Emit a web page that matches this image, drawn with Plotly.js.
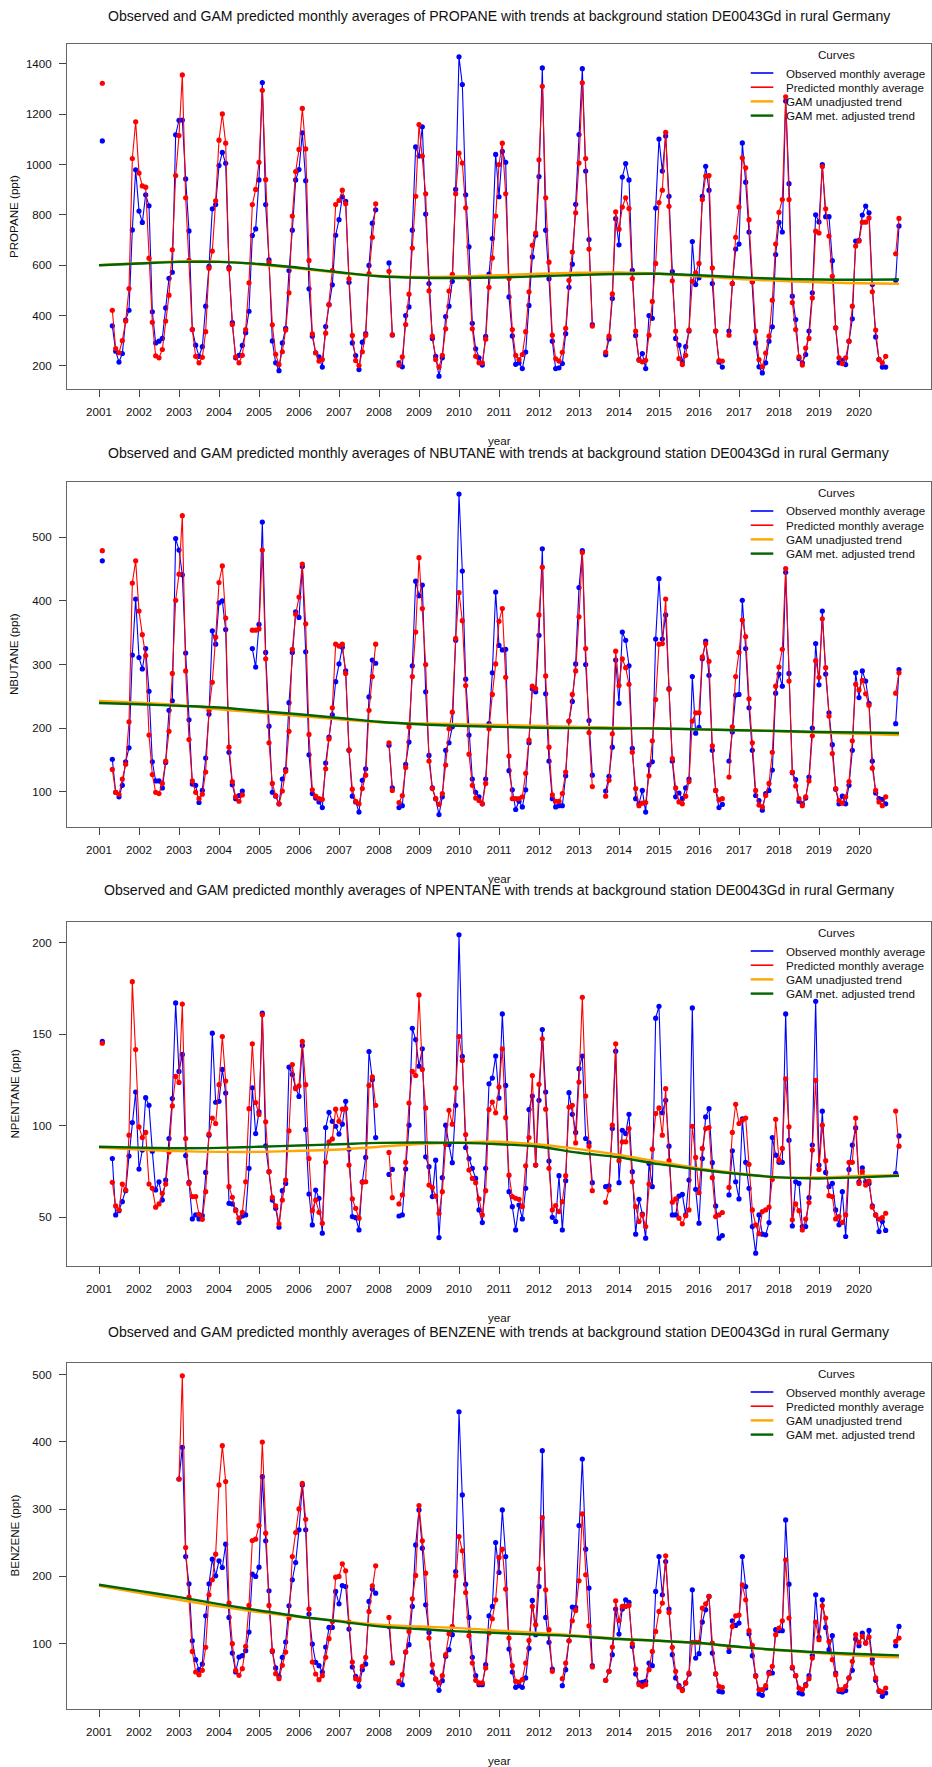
<!DOCTYPE html>
<html><head><meta charset="utf-8">
<script src="https://cdn.plot.ly/plotly-3.0.1.min.js"></script>
<style>html,body{margin:0;padding:0;background:#fff;}#chart{width:932px;height:1767px;}</style>
</head><body><div id="chart"></div>
<script>
// ---------- time axis (categories) ----------
const years = [2001,2002,2003,2004,2005,2006,2007,2008,2009,2010,2011,2012,2013,2014,2015,2016,2017,2018,2019,2020];
const trendYears = [2001,2002,2003,2004,2005,2006,2007,2008,2009,2010,2011,2012,2013,2014,2015,2016,2017,2018,2019,2020,2021];
const xTickLabels = ["2001","2002","2003","2004","2005","2006","2007","2008","2009","2010","2011","2012","2013","2014","2015","2016","2017","2018","2019","2020"];

// ---------- PROPANE ----------
const propaneObs = [
1094,null,null,359,258,215,249,382,421,740,979,815,
770,880,836,415,291,298,309,430,548,572,1118,1176,
1177,943,736,344,282,238,276,437,595,824,841,996,
1048,1005,591,372,232,242,281,332,417,718,744,939,
1326,841,621,299,212,181,291,349,579,739,939,980,
1126,936,506,318,252,236,195,356,443,522,719,781,
872,854,532,291,241,185,294,328,599,767,820,null,
null,null,609,323,null,212,196,400,434,739,1070,1034,
1150,803,527,309,238,159,232,396,437,536,901,1428,
1318,880,673,369,268,232,203,317,565,706,1040,872,
1052,1009,474,319,206,212,189,255,440,633,719,952,
1384,739,546,298,189,192,209,328,512,604,842,1119,
1381,974,702,364,null,null,null,244,307,468,785,681,
950,1004,939,580,321,225,249,189,400,389,827,1101,
974,1113,874,575,309,282,216,276,338,694,523,550,
874,993,898,527,338,215,195,null,338,527,664,684,
1086,930,732,534,291,196,172,212,298,355,642,770,
732,1252,924,477,384,229,212,245,338,490,800,772,
1000,793,793,618,351,212,222,205,298,387,696,699,
799,835,808,523,315,226,195,195,null,null,540,756];
const propanePred = [
1323,null,null,421,269,252,300,378,507,1024,1170,966,
915,910,628,373,240,232,265,378,481,661,956,1115,
1356,868,619,344,238,212,234,336,588,656,856,1097,
1201,1085,585,364,236,212,242,344,530,841,901,1009,
1295,940,611,363,246,205,256,342,490,795,972,1060,
1223,1062,619,327,252,219,225,330,443,579,841,857,
898,844,546,321,221,201,256,322,567,711,844,null,
null,null,576,323,null,203,236,364,485,668,874,1159,
1034,884,498,318,225,195,242,347,497,564,884,1045,
1006,828,548,347,238,212,212,306,512,629,795,1000,
1085,884,547,344,242,225,245,336,494,679,728,1019,
1311,868,612,322,228,219,254,349,540,652,808,1006,
1325,1024,664,358,null,null,null,254,318,486,812,743,
831,868,825,547,338,222,216,222,322,456,607,849,
898,1128,834,538,338,229,205,242,342,536,570,607,
861,954,956,589,338,221,219,null,322,527,711,831,
1027,987,781,534,338,225,196,251,318,461,684,810,
861,1269,861,451,344,236,203,271,309,470,735,728,
992,824,716,556,351,232,209,232,298,437,676,696,
771,771,788,494,342,225,212,238,null,null,645,786];
const propaneTrendUnadj = [600,608,615,614,603,587,570,557,553,555,560,566,570,571,566,556,545,538,532,528,526];
const propaneTrendAdj   = [600,607,613,613,605,590,572,556,550,549,551,556,561,565,566,560,552,546,543,542,543];

// ---------- NBUTANE ----------
const nbutaneObs = [
463,null,null,151,99,92,110,147,169,315,403,311,
293,325,258,147,117,117,106,146,228,243,498,480,
441,318,213,112,110,83,102,153,222,353,332,397,
400,355,162,111,89,94,101,null,null,325,296,363,
524,319,203,99,93,81,120,135,240,319,383,374,
454,320,158,97,90,84,75,145,186,221,273,301,
327,290,165,93,84,68,118,136,249,307,302,null,
null,null,173,106,null,75,78,143,178,298,431,408,
425,257,157,106,89,64,92,165,177,202,338,568,
447,277,189,120,99,92,81,120,207,287,414,330,
323,324,133,103,72,85,76,103,177,262,257,346,
482,254,148,89,76,78,78,125,211,242,301,421,
479,300,212,126,null,null,null,101,124,170,307,239,
351,338,298,168,89,81,102,68,142,147,340,435,
340,378,262,148,92,98,89,106,120,281,192,201,
309,337,283,165,102,75,80,null,148,194,252,253,
401,325,232,165,94,86,71,97,102,134,255,285,
266,445,286,130,119,85,81,90,123,200,333,268,
384,285,224,174,104,81,93,81,110,165,287,248,
290,274,239,148,98,89,88,81,null,null,207,292];
const nbutanePred = [
479,null,null,135,99,96,120,143,210,428,463,384,
347,314,189,127,99,97,113,148,195,286,401,442,
534,290,182,117,99,89,96,131,228,272,343,429,
455,373,170,116,92,85,95,null,null,354,354,356,
480,309,177,113,94,81,101,132,195,324,379,406,
458,364,190,103,93,89,88,136,183,232,332,329,
332,286,166,104,85,81,105,126,228,281,332,null,
null,null,177,102,null,83,94,138,202,281,351,468,
388,300,148,105,89,80,97,142,199,225,341,413,
369,267,159,110,90,86,81,113,199,253,301,368,
388,280,156,89,89,89,92,129,181,266,262,378,
453,282,170,95,85,85,97,131,211,253,290,375,
476,325,193,108,null,null,null,93,118,191,321,267,
309,295,269,162,105,78,82,83,125,180,245,332,
333,403,261,152,106,84,81,93,116,211,224,224,
312,333,305,172,102,87,89,null,123,202,281,319,
370,344,246,177,102,79,76,94,113,162,266,296,
324,451,274,131,109,89,78,92,117,188,306,280,
372,295,219,160,105,86,82,92,116,180,269,260,
275,254,236,137,102,84,78,92,null,null,255,287];
const nbutaneTrendUnadj = [242.8,240,236.5,229.6,224.5,219.1,214,209,207.5,206,205,203.5,202,200.5,199.5,198,196.6,195,193,191,189.2];
const nbutaneTrendAdj   = [239.6,237.5,235,232.3,227,221.8,216,210,206,203.5,202,200.5,200,199.5,199.5,198,196.6,195.5,194,193,192.4];

// ---------- NPENTANE ----------
const npentaneObs = [
146.0,null,null,82.1,51.3,53.6,58.5,64.5,83.4,101.7,118.4,76.3,
86.7,115.3,111.1,86.1,64.9,69.4,59.4,70.3,93.0,114.8,167.0,129.6,
138.9,83.7,69.1,49.1,51.3,49.1,50.9,74.5,94.8,150.5,112.8,113.3,
130.7,117.8,57.6,57.3,54.0,47.1,50.7,51.3,76.7,120.7,95.7,107.5,
161.4,89.0,74.9,59.4,54.9,44.6,64.5,68.5,132.0,128.0,120.6,116.0,
143.8,97.9,62.7,45.8,64.9,60.4,41.3,99.0,107.3,102.4,99.7,95.4,
100.8,113.3,87.2,50.4,49.8,43.1,69.4,82.7,140.5,125.1,93.5,null,
null,null,73.4,76.1,null,50.7,51.3,76.3,100.3,153.2,147.0,132.5,
142.0,83.0,77.6,61.3,81.2,38.9,71.6,100.3,89.7,79.8,111.1,204.2,
137.8,88.1,82.1,76.7,71.2,54.0,47.1,76.7,122.9,126.0,138.0,115.1,
161.0,122.0,64.0,55.8,43.1,56.7,49.1,65.8,108.8,116.2,78.5,113.9,
152.5,118.4,80.7,50.0,47.7,72.7,43.1,70.0,118.0,106.2,96.3,131.1,
138.0,93.0,90.6,68.9,null,null,null,66.7,67.2,98.4,140.7,68.9,
97.5,95.7,106.2,74.9,40.8,59.8,51.8,38.6,79.4,66.7,158.7,165.2,
107.0,113.9,88.8,51.3,51.3,61.6,62.5,51.3,70.3,164.3,65.3,46.8,
82.1,104.8,109.3,79.8,56.2,38.6,40.0,null,62.2,86.3,69.4,60.0,
103.7,80.0,65.8,44.9,30.4,51.3,40.8,40.4,47.1,93.5,83.9,80.0,
80.0,161.0,92.1,45.3,69.4,68.5,44.9,44.9,60.7,89.4,167.9,78.5,
107.9,74.5,66.7,68.5,54.0,45.9,64.0,39.5,76.1,89.4,98.8,69.4,
77.0,69.4,68.5,56.2,51.3,42.2,47.7,42.8,null,null,74.0,94.4];
const npentanePred = [
145.0,null,null,69.1,56.2,54.0,68.1,64.9,94.8,178.6,141.6,99.3,
93.5,96.3,68.1,65.8,55.5,57.3,63.1,68.1,85.7,110.8,126.9,123.6,
166.4,93.0,68.5,61.3,61.3,51.6,48.9,64.0,95.4,104.2,101.2,122.4,
148.7,124.4,66.7,60.9,53.6,49.5,52.7,69.4,109.3,144.7,112.6,106.1,
160.5,102.1,74.9,60.9,56.2,46.4,59.4,70.3,97.2,133.4,120.2,121.7,
146.0,122.4,82.1,53.6,59.4,52.7,46.7,80.0,91.2,92.8,109.0,102.4,
109.0,109.3,78.5,60.0,54.9,49.5,69.1,69.4,122.0,126.6,111.1,null,
null,null,85.4,60.7,null,57.3,62.2,80.0,112.4,129.6,127.4,171.4,
130.7,109.7,67.6,66.3,61.6,52.2,64.0,89.9,108.4,100.8,120.6,148.7,
135.6,95.2,75.8,71.2,68.9,60.0,51.3,64.5,108.8,112.9,107.0,121.1,
142.0,104.4,73.0,61.3,60.4,59.8,55.8,78.1,93.5,127.4,78.5,122.6,
147.4,109.0,76.7,54.0,56.4,53.1,58.5,72.7,110.2,111.1,90.6,123.8,
170.1,116.2,88.8,64.5,null,null,null,58.2,64.9,100.3,144.7,80.9,
91.2,91.2,98.4,69.4,55.8,47.7,51.3,44.9,68.1,87.2,106.6,109.7,
94.8,120.2,80.9,58.2,60.0,49.5,46.4,50.9,54.0,99.7,82.7,63.4,
87.6,98.4,99.0,71.6,50.4,51.3,52.6,null,66.3,96.3,111.7,101.2,
103.0,104.2,78.9,54.0,45.9,41.0,53.1,54.0,55.5,70.7,103.5,81.2,
87.6,125.6,99.4,48.6,57.3,53.6,43.1,49.0,58.0,86.7,124.7,76.1,
100.3,80.9,61.8,61.3,49.1,50.4,47.1,51.3,80.0,80.0,104.2,68.5,
74.9,67.6,69.8,55.5,51.3,49.0,49.8,52.2,null,null,108.0,88.8];
const npentaneTrendUnadj = [88.1,87.0,86.1,85.7,85.7,86.3,87.0,88.5,90.0,90.8,91.2,89.7,87.2,84.0,80.3,76.7,74.0,71.8,71.8,72.5,73.0];
const npentaneTrendAdj   = [88.5,88.0,87.7,87.9,88.5,89.2,89.9,90.6,90.8,90.6,89.9,88.5,85.2,82.7,79.0,76.1,73.6,71.8,71.2,71.8,72.7];

// ---------- BENZENE ----------
const benzeneObs = [
null,null,null,null,null,null,null,null,null,null,null,null,
null,null,null,null,null,null,null,null,null,null,null,344.7,
391.7,229.5,189.0,104.4,76.3,61.4,69.8,141.5,189.0,225.6,200.9,223.1,
213.2,247.8,139.1,86.1,58.0,80.2,82.2,89.6,117.3,203.3,199.9,213.7,
348.2,252.8,178.6,88.6,64.0,51.5,79.7,102.5,156.4,195.0,220.6,269.1,
335.9,269.1,144.0,99.5,72.3,67.4,58.0,95.1,124.2,124.2,177.6,159.3,
186.5,185.0,121.8,65.4,51.5,36.7,61.4,69.8,162.8,181.1,175.1,null,
null,null,125.7,71.3,null,41.7,39.2,87.6,98.5,155.4,246.8,298.8,
241.9,157.9,116.8,58.0,47.6,30.8,45.1,81.2,91.1,113.4,207.3,444.6,
321.0,188.5,139.1,79.7,52.5,39.2,39.2,68.9,141.5,155.4,250.3,205.8,
298.8,229.5,92.1,58.0,35.2,37.7,35.2,49.1,93.1,164.3,113.4,185.0,
386.8,139.1,102.0,62.4,null,null,37.7,61.4,104.4,154.4,153.9,275.5,
374.4,240.4,182.6,67.4,null,null,null,45.6,58.9,83.7,151.4,114.3,
151.4,165.3,161.3,96.0,55.0,41.7,42.6,44.1,71.3,67.4,177.6,229.5,
172.7,222.1,151.4,83.7,49.1,37.7,31.8,41.7,55.0,180.1,78.7,85.2,
132.1,150.4,170.2,86.1,55.0,29.3,28.3,null,88.6,134.1,127.2,130.7,
229.5,185.0,114.8,82.2,52.5,25.3,23.3,34.2,57.5,56.5,120.8,119.3,
119.3,283.9,188.5,63.9,52.5,26.8,25.3,39.2,52.5,82.7,172.7,109.4,
165.3,124.2,91.1,111.9,56.5,29.3,28.3,30.3,49.1,60.4,106.9,97.0,
115.8,101.0,119.8,77.3,45.6,29.3,21.9,26.8,null,null,97.0,125.7];
const benzenePred = [
null,null,null,null,null,null,null,null,null,null,null,null,
null,null,null,null,null,null,null,null,null,null,null,344.7,
498.0,242.9,169.2,88.6,58.0,54.0,60.4,94.6,172.7,195.0,233.0,335.9,
394.2,340.8,160.3,100.0,60.4,53.0,62.9,96.0,156.9,253.3,255.3,275.5,
399.6,264.2,156.9,89.6,55.5,48.1,67.9,87.6,138.1,229.5,265.1,300.2,
338.3,284.9,151.4,72.8,55.0,46.6,52.5,79.7,107.4,133.1,198.9,199.9,
218.7,208.3,132.1,72.8,48.1,46.6,66.4,79.7,148.0,186.0,215.7,null,
null,null,139.1,72.3,null,44.1,54.0,87.6,118.3,166.7,201.4,305.2,
252.8,204.8,108.4,68.9,47.6,41.7,52.5,83.7,114.8,125.7,200.9,259.2,
238.0,176.1,111.9,71.3,45.6,41.7,41.7,63.9,115.8,137.1,165.2,228.1,
240.4,181.1,108.4,67.4,44.1,43.1,46.6,71.3,104.9,155.4,128.2,211.2,
287.4,180.1,120.8,58.9,null,null,48.1,71.3,104.4,134.1,149.4,193.4,
292.8,202.4,126.7,65.4,null,null,null,45.6,58.9,95.1,163.8,134.1,
155.4,155.4,156.9,100.0,62.4,39.2,36.7,39.2,61.4,88.6,118.3,148.0,
160.3,230.5,146.5,94.6,58.9,35.7,30.3,41.7,56.5,102.0,102.0,102.0,
152.9,159.3,170.2,101.0,55.5,36.7,35.2,null,95.1,125.7,141.5,142.5,
187.5,165.3,119.3,97.5,51.5,31.8,31.8,37.7,55.5,66.4,113.4,123.2,
134.1,224.6,138.1,65.4,52.5,34.2,31.8,37.7,48.1,78.7,132.1,105.9,
156.4,138.1,103.5,76.3,54.0,31.8,31.8,36.7,49.1,73.8,113.4,102.0,
110.9,101.0,109.9,71.3,49.1,30.3,28.3,34.2,null,null,103.5,108.4];
const benzeneTrendUnadj = [186.0,175.5,165.3,155.4,146.9,139.5,134.1,128.2,125.5,123.2,119.5,115.8,111.9,107.4,104.5,100.5,95.0,90.1,86.1,82.2,79.7];
const benzeneTrendAdj   = [187.5,178.5,169.2,158.8,149.4,140.5,133.1,125.7,121.8,118.3,115.8,113.4,110.9,106.9,104.5,101.0,95.5,90.6,87.2,84.7,82.7];

// ---------- labels ----------
const species = ["PROPANE","NBUTANE","NPENTANE","BENZENE"];
const legendLabels = ["Observed monthly average","Predicted monthly average","GAM unadjusted trend","GAM met. adjusted trend"];
const yTicks = [[200,400,600,800,1000,1200,1400],[100,200,300,400,500],[50,100,150,200],[100,200,300,400,500]];

// monthly time positions (year + month/12, as plotted)
const monthX = [];
years.forEach(y => { for (let m = 1; m <= 12; m++) monthX.push(y + m / 12); });

// ---------- layout geometry ----------
const W = 932, H = 1767, ML = 67, MR = 1;
const PW = W - ML - MR;
const boxTop = [44, 482, 922, 1363];
const boxBot = [389, 827, 1266, 1709];
const titleY = [16, 453, 890, 1332];
const yRanges = [[108,1479],[44.5,587],[23.4,211.2],[3,517]];
const fx = px => (px - ML) / PW;
const fy = py => 1 - py / H;

const COL = {obs:"#0000FF", pred:"#FF0000", unadj:"#FFA500", adj:"#006400"};
const FONT = "Liberation Sans, Arial, Helvetica, sans-serif";

const series = [
  [propaneObs, propanePred, propaneTrendUnadj, propaneTrendAdj],
  [nbutaneObs, nbutanePred, nbutaneTrendUnadj, nbutaneTrendAdj],
  [npentaneObs, npentanePred, npentaneTrendUnadj, npentaneTrendAdj],
  [benzeneObs, benzenePred, benzeneTrendUnadj, benzeneTrendAdj]
];

const traces = [];
const layout = {
  width: W, height: H, margin: {l: ML, r: MR, t: 0, b: 0},
  paper_bgcolor: "#fff", plot_bgcolor: "#fff", showlegend: false,
  font: {family: FONT, color: "#000"},
  annotations: [], shapes: []
};

series.forEach((s, i) => {
  const n = i + 1;
  const xa = n === 1 ? "x" : "x" + n, ya = n === 1 ? "y" : "y" + n;
  const xk = n === 1 ? "xaxis" : "xaxis" + n, yk = n === 1 ? "yaxis" : "yaxis" + n;
  traces.push({x: monthX, y: s[0], xaxis: xa, yaxis: ya, mode: "lines+markers", connectgaps: false,
    line: {color: COL.obs, width: 1.1}, marker: {color: COL.obs, size: 5.2}});
  traces.push({x: monthX, y: s[1], xaxis: xa, yaxis: ya, mode: "lines+markers", connectgaps: false,
    line: {color: COL.pred, width: 1.1}, marker: {color: COL.pred, size: 5.2}});
  traces.push({x: trendYears, y: s[2], xaxis: xa, yaxis: ya, mode: "lines",
    line: {color: COL.unadj, width: 2.4, shape: "spline", smoothing: 1}});
  traces.push({x: trendYears, y: s[3], xaxis: xa, yaxis: ya, mode: "lines",
    line: {color: COL.adj, width: 2.4, shape: "spline", smoothing: 1}});

  layout[xk] = {domain: [0, 1], range: [2000.2, 2021.8], anchor: ya,
    tickvals: years, ticktext: xTickLabels, ticks: "outside", ticklen: 7, tickcolor: "#444",
    showline: true, mirror: true, linecolor: "#666", linewidth: 1,
    showgrid: false, zeroline: false, tickfont: {size: 11.6, family: FONT, color: "#111"},
    ticklabelstandoff: 5, fixedrange: true};
  layout[yk] = {domain: [fy(boxBot[i]), fy(boxTop[i])], range: yRanges[i], anchor: xa,
    tickvals: yTicks[i], ticks: "outside", ticklen: 7, tickcolor: "#444",
    showline: true, mirror: true, linecolor: "#666", linewidth: 1,
    showgrid: false, zeroline: false, tickfont: {size: 11.6, family: FONT, color: "#111"},
    ticklabelstandoff: 5, fixedrange: true};

  // title
  layout.annotations.push({xref: "paper", yref: "paper", x: fx((ML + W - MR) / 2), y: fy(titleY[i]),
    xanchor: "center", yanchor: "middle", showarrow: false,
    text: "Observed and GAM predicted monthly averages of " + species[i] + " with trends at background station DE0043Gd in rural Germany",
    font: {size: 14.1, family: FONT, color: "#111"}});
  // x title
  layout.annotations.push({xref: "paper", yref: "paper", x: fx((ML + W - MR) / 2), y: fy(boxBot[i] + 51),
    xanchor: "center", yanchor: "middle", showarrow: false, text: "year",
    font: {size: 11.6, family: FONT, color: "#111"}});
  // y title
  layout.annotations.push({xref: "paper", yref: "paper", x: fx(13.5), y: fy((boxTop[i] + boxBot[i]) / 2),
    xanchor: "center", yanchor: "middle", showarrow: false, textangle: -90, text: species[i] + " (ppt)",
    font: {size: 11.6, family: FONT, color: "#111"}});
  // legend
  layout.annotations.push({xref: "paper", yref: "paper", x: fx(836), y: fy(boxTop[i] + 10.3),
    xanchor: "center", yanchor: "middle", showarrow: false, text: "Curves",
    font: {size: 11.6, family: FONT, color: "#111"}});
  const legCols = [COL.obs, COL.pred, COL.unadj, COL.adj];
  legendLabels.forEach((lab, j) => {
    const yy = boxTop[i] + 29 + 14.2 * j;
    layout.shapes.push({type: "line", xref: "paper", yref: "paper", x0: fx(750.7), x1: fx(773.3),
      y0: fy(yy), y1: fy(yy), line: {color: legCols[j], width: j < 2 ? 1.6 : 2.4}});
    layout.annotations.push({xref: "paper", yref: "paper", x: fx(783.5), y: fy(yy),
      xanchor: "left", yanchor: "middle", showarrow: false, text: lab,
      font: {size: 11.6, family: FONT, color: "#111"}});
  });
});

Plotly.newPlot("chart", traces, layout, {staticPlot: true, displayModeBar: false});
</script>
</body></html>
